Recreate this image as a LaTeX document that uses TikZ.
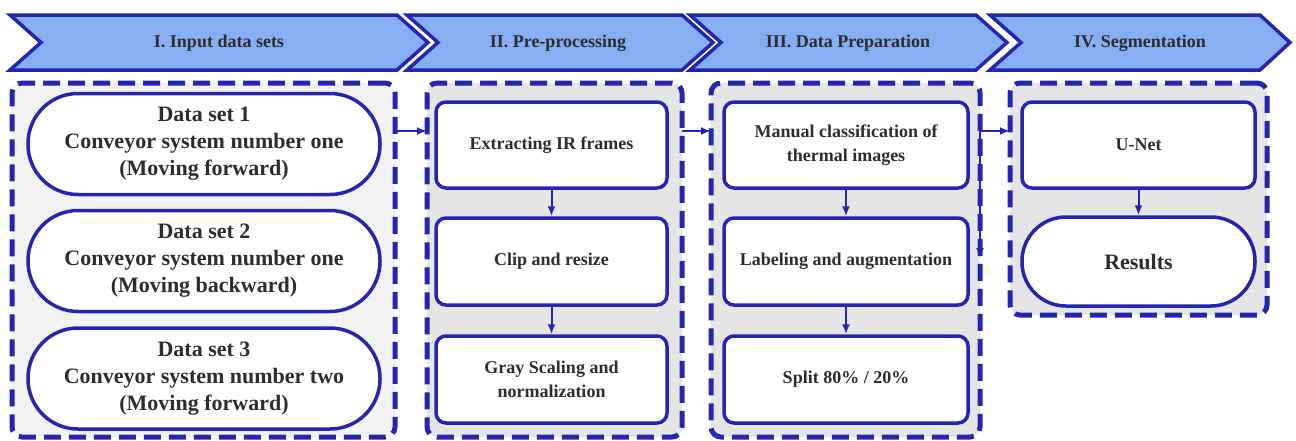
\documentclass[tikz,border=0pt]{standalone}
\usepackage{fontspec}
\setmainfont{Liberation Serif}
\usetikzlibrary{arrows.meta}

\definecolor{edgeblue}{RGB}{36,38,178}
\definecolor{bannerblue}{RGB}{134,174,242}
\definecolor{panelA}{RGB}{242,242,242}
\definecolor{panelB}{RGB}{229,229,229}
\definecolor{ink}{RGB}{45,45,45}

\tikzset{
  banner/.style={draw=edgeblue, fill=bannerblue, line width=3.5pt},
  bannertext/.style={text=ink, font=\fontsize{18}{22}\selectfont\bfseries},
  panel/.style={draw=edgeblue, line width=5pt, dash pattern=on 17pt off 8pt,
    rounded corners=10pt, outer sep=0pt},
  stadium/.style={draw=edgeblue, fill=white, line width=3.5pt, rounded corners=50pt,
    minimum width=352pt, minimum height=101pt, align=center, text=ink,
    font=\fontsize{22}{27}\selectfont\bfseries},
  stepbox/.style={draw=edgeblue, fill=white, line width=3.5pt, rounded corners=10pt,
    minimum height=87pt, align=center, text=ink,
    font=\fontsize{18}{24}\selectfont\bfseries},
  arr/.style={draw=edgeblue, line width=2pt, -{Latex[length=10pt,width=8pt]}},
}

\begin{document}
\begin{tikzpicture}[x=1pt,y=-1pt]
\useasboundingbox (0,0) rectangle (1296,440);

% stage banners
\path[banner] (10,15) -- (397,15) -- (428,42.5) -- (397,70) -- (10,70) -- (41,42.5) -- cycle;
\path[banner] (407,15) -- (682,15) -- (713,42.5) -- (682,70) -- (407,70) -- (438,42.5) -- cycle;
\path[banner] (690,15) -- (976,15) -- (1007,42.5) -- (976,70) -- (690,70) -- (721,42.5) -- cycle;
\path[banner] (990,15) -- (1260,15) -- (1290,42.5) -- (1260,70) -- (990,70) -- (1021,42.5) -- cycle;
\node[bannertext] (h1) at (219,43) {I. Input data sets};
\node[bannertext] (h2) at (558,43) {II. Pre-processing};
\node[bannertext] (h3) at (848,43) {III. Data Preparation};
\node[bannertext] (h4) at (1140,43) {IV. Segmentation};

% stage panels
\node[panel, fill=panelA, minimum width=383pt, minimum height=354pt] (c1) at (203.5,260) {};
\node[panel, fill=panelB, minimum width=255pt, minimum height=354pt] (c2) at (554.5,260) {};
\node[panel, fill=panelB, minimum width=269pt, minimum height=354pt] (c3) at (845.5,260) {};
\node[panel, fill=panelB, minimum width=257pt, minimum height=232pt] (c4) at (1138.5,199) {};

% I. input data sets
\node[stadium] (d1) at (204,144) {Data set 1\\Conveyor system number one\\(Moving forward)};
\node[stadium] (d2) at (204,261) {Data set 2\\Conveyor system number one\\(Moving backward)};
\node[stadium] (d3) at (204,378.5) {Data set 3\\Conveyor system number two\\(Moving forward)};

% II. pre-processing
\node[stepbox, minimum width=231pt, minimum height=86pt] (p1) at (551.5,145) {Extracting IR frames};
\node[stepbox, minimum width=231pt] (p2) at (551.5,261.5) {Clip and resize};
\node[stepbox, minimum width=231pt] (p3) at (551.5,379.5) {Gray Scaling and\\normalization};

% III. data preparation
\node[stepbox, minimum width=244pt, minimum height=86pt] (q1) at (846,145) {Manual classification of\\thermal images};
\node[stepbox, minimum width=244pt] (q2) at (846,261.5) {Labeling and augmentation};
\node[stepbox, minimum width=244pt] (q3) at (846,379.5) {Split 80\% / 20\%};

% IV. segmentation
\node[stepbox, minimum width=233pt, minimum height=86pt] (s1) at (1138.5,145) {U-Net};
\node[stadium, minimum width=233pt, minimum height=89pt, rounded corners=44pt] (s2) at (1138.5,261.5) {Results};

% connectors
\coordinate (lvl) at (0,131);
\coordinate (lvlb) at (0,258);
\draw[arr] (c1.east |- lvl) -- (c2.west |- lvl);
\draw[arr] (c2.east |- lvl) -- (c3.west |- lvl);
\draw[arr] (c3.east |- lvl) -- (c4.west |- lvl);
\draw[arr] (c3.east |- lvl) -- (c3.east |- lvlb);

\draw[arr] (p1.south) -- (p2.north);
\draw[arr] (p2.south) -- (p3.north);
\draw[arr] (q1.south) -- (q2.north);
\draw[arr] (q2.south) -- (q3.north);
\draw[arr] (s1.south) -- (s2.north);
\end{tikzpicture}
\end{document}
